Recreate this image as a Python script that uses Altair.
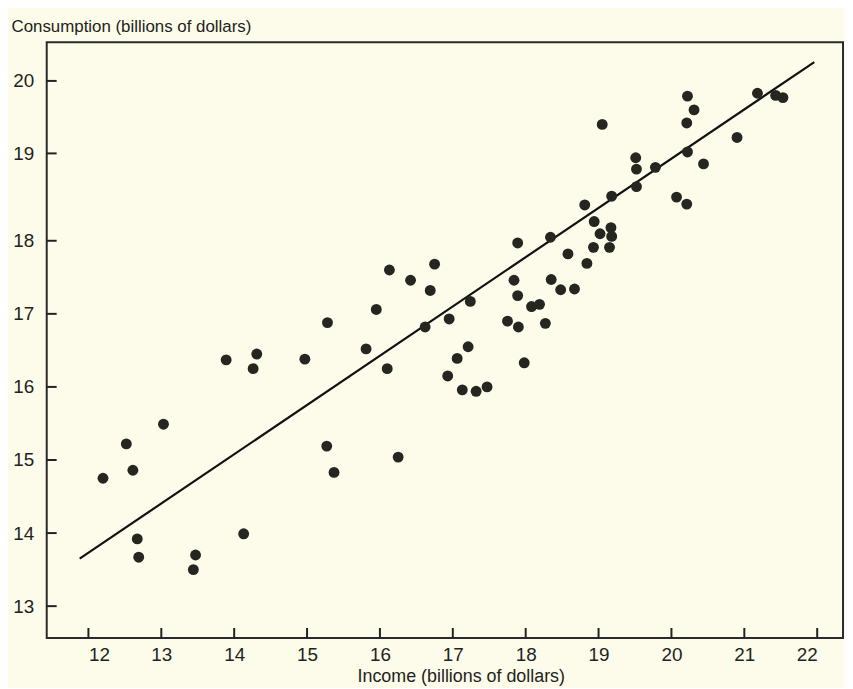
import altair as alt
import pandas as pd

# Income (billions of dollars)
income = [12.20, 12.52, 12.61, 13.03, 12.67, 12.69, 13.47, 13.44, 13.89, 14.13,
          14.26, 14.31, 14.97, 15.28, 15.27, 15.37, 15.81, 15.95, 16.10, 16.13,
          16.25, 16.42, 16.62, 16.69, 16.75, 16.93, 16.95, 17.06, 17.13, 17.21,
          17.24, 17.32, 17.47, 17.75, 17.84, 17.89, 17.89, 17.90, 17.98, 18.08,
          18.19, 18.27, 18.34, 18.35, 18.48, 18.58, 18.67, 18.81, 18.84, 18.93,
          18.94, 19.02, 19.05, 19.15, 19.17, 19.18, 19.18, 19.51, 19.52, 19.52,
          19.78, 20.07, 20.21, 20.21, 20.22, 20.22, 20.31, 20.44, 20.90, 21.18,
          21.43, 21.53]
# Consumption (billions of dollars)
consumption = [14.75, 15.22, 14.86, 15.49, 13.92, 13.67, 13.70, 13.50, 16.37, 13.99,
               16.25, 16.45, 16.38, 16.88, 15.19, 14.83, 16.52, 17.06, 16.25, 17.60,
               15.04, 17.46, 16.82, 17.32, 17.68, 16.15, 16.93, 16.39, 15.96, 16.55,
               17.17, 15.94, 16.00, 16.90, 17.46, 17.25, 17.97, 16.82, 16.33, 17.10,
               17.13, 16.87, 18.04, 17.47, 17.33, 17.82, 17.34, 18.41, 17.69, 17.91,
               18.22, 18.08, 19.40, 17.91, 18.15, 18.05, 18.51, 18.95, 18.82, 18.62,
               18.84, 18.50, 18.42, 19.42, 19.02, 19.79, 19.60, 18.88, 19.22, 19.83,
               19.80, 19.77]

# fitted line end points
line_x = [11.88, 21.96]
line_y = [13.65, 20.26]

x_ticks = [12, 13, 14, 15, 16, 17, 18, 19, 20, 21, 22]
y_ticks = [13, 14, 15, 16, 17, 18, 19, 20]

W, H = 802, 600
TICK = 10
FONT = "Liberation Sans"
INK = "#222220"

points = pd.DataFrame({"x": income, "y": consumption})
fit = pd.DataFrame({"x": line_x, "y": line_y})
xt = pd.DataFrame({"x": x_ticks})
yt = pd.DataFrame({"y": y_ticks})

xscale = alt.Scale(domain=[12, 22], range=[42, 776], zero=False, nice=False)
yscale = alt.Scale(domain=[13, 18, 19, 20], range=[568, 200, 112, 39], zero=False, nice=False)

xaxis = alt.Axis(values=x_ticks, title="Income (billions of dollars)", grid=False,
                 domain=False, ticks=False, labelFontSize=19, labelPadding=8,
                 labelFont=FONT, labelColor=INK, titleFont=FONT, titleFontSize=18,
                 titleFontWeight="normal", titleColor=INK, titleX=417, titleY=44,
                 titleBaseline="alphabetic", titleAnchor="start", titleAlign="center")
yaxis = alt.Axis(values=y_ticks, title="Consumption (billions of dollars)", grid=False,
                 domain=False, ticks=False, labelFontSize=19, labelPadding=13,
                 labelFont=FONT, labelColor=INK, titleFont=FONT, titleFontSize=17,
                 titleFontWeight="normal", titleColor=INK, titleAngle=0,
                 titleAlign="left", titleBaseline="alphabetic", titleX=-36, titleY=-11)

X = alt.X("x:Q", scale=xscale, axis=xaxis)
Y = alt.Y("y:Q", scale=yscale, axis=yaxis)

dots = alt.Chart(points).mark_circle(size=120, color="#262620", opacity=1).encode(x=X, y=Y)
reg = alt.Chart(fit).mark_line(color="#111111", strokeWidth=2.2).encode(x=X, y=Y)
ytick_marks = alt.Chart(yt).mark_rule(color=INK, strokeWidth=2).encode(
    y=Y, x=alt.value(0), x2=alt.value(TICK))
xtick_marks = alt.Chart(xt).mark_rule(color=INK, strokeWidth=2).encode(
    x=X, y=alt.value(H - TICK), y2=alt.value(H))

chart = alt.layer(reg, dots, ytick_marks, xtick_marks).properties(
    width=W, height=H,
    autosize=alt.AutoSizeParams(type="none"),
    padding={"left": 39, "top": 32, "right": 2, "bottom": 48},
    background="#fdfcea",
).configure_view(stroke="#2a2a2a", strokeWidth=2)

chart.save("out.html", embed_options={"renderer": "svg", "actions": False})
